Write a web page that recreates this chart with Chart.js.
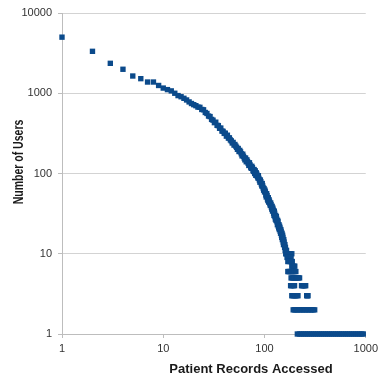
<!DOCTYPE html>
<html>
<head>
<meta charset="utf-8">
<script src="https://cdn.jsdelivr.net/npm/chart.js@4.4.0/dist/chart.umd.min.js"></script>
<style>
  html, body { margin: 0; padding: 0; background: #fff; }
  #wrap { width: 382px; height: 384px; }
</style>
</head>
<body>
<div id="wrap"><canvas id="myChart" width="382" height="384"></canvas></div>
<script>
// Axis titles and tick values
const xTitle = 'Patient Records Accessed';
const yTitle = 'Number of Users';
const xTicks = [1, 10, 100, 1000];
const yTicks = [1, 10, 100, 1000, 10000];

// Number of users for 1, 2, 3 ... 165 records accessed
const usersMain = [
    5000, 3330, 2360, 1990, 1640, 1520, 1380, 1380, 1250, 1160,
    1110, 1070, 1000, 935, 905, 865, 825, 780, 745, 720,
    700, 672, 668, 628, 622, 576, 560, 520, 512, 472,
    462, 430, 436, 398, 395, 366, 368, 338, 335, 316,
    318, 292, 300, 276, 278, 262, 255, 240, 244, 226,
    230, 220, 212, 200, 205, 188, 194, 186, 176, 166,
    174, 164, 156, 148, 156, 140, 148, 141, 134, 126,
    136, 128, 120, 116, 123, 118, 109, 106, 112, 100,
    108, 95, 102, 98, 92, 88, 94, 87, 83, 78,
    83, 79, 74, 70, 75, 70, 66, 62, 65, 59,
    62, 59, 54, 51, 56, 53, 48, 46, 50, 44,
    47, 45, 42, 40, 43, 41, 38, 36, 39, 34,
    37, 35, 32, 30, 34, 32, 29, 27, 30, 26,
    29, 27, 25, 23, 26, 25, 22, 21, 23, 20,
    22, 21, 19, 18, 20, 19, 17, 16, 18, 15,
    17, 16, 14, 13, 15, 14, 13, 12, 13, 11,
    12, 10, 11, 10, 11
];

// Tail: records accessed for each small user count
const records10Users = [168, 174, 180, 186];
const records9Users = [167, 172, 178, 183];
const records8Users = [170, 176, 182, 188];
const records7Users = [186, 190, 195, 199];
const records6Users = [170, 174, 178, 182, 187, 192, 198, 204];
const records5Users = [183, 188, 193, 198, 204, 210, 216, 222];
const records4Users = [181, 186, 192, 198, 232, 237, 243, 249, 255];
const records3Users = [186, 191, 196, 202, 208, 214, 261, 265, 269];
const records2Users = [192, 198, 204, 211, 219, 227, 235, 244, 253, 262, 272, 282, 292, 302, 313];
const records1User = [211, 221, 231, 242, 253, 265, 277, 290, 304, 318, 333, 349, 365, 382, 400,
    419, 438, 459, 480, 503, 527, 551, 577, 604, 633, 662, 693, 726, 760, 796, 833, 872, 913, 945];

// Build scatter points
const points = usersMain.map((users, i) => ({ x: i + 1, y: users }));
[
    [10, records10Users], [9, records9Users], [8, records8Users], [7, records7Users],
    [6, records6Users], [5, records5Users], [4, records4Users], [3, records3Users],
    [2, records2Users], [1, records1User]
].forEach(([users, list]) => {
    list.forEach(rec => points.push({ x: rec, y: users }));
});

const fontFamily = '"Liberation Sans", Arial, sans-serif';

// Draws the two axis titles where the original has them
const axisTitles = {
    id: 'axisTitles',
    afterDraw(chart) {
        const ctx = chart.ctx;
        ctx.save();
        ctx.fillStyle = '#1a1a1a';
        ctx.textAlign = 'center';
        ctx.textBaseline = 'middle';
        ctx.font = 'bold 13px ' + fontFamily;
        ctx.fillText(xTitle, 251, 369);
        ctx.translate(19, 162);
        ctx.rotate(-Math.PI / 2);
        ctx.scale(0.75, 1);
        ctx.font = 'bold 14px ' + fontFamily;
        ctx.fillText(yTitle, 0, 0);
        ctx.restore();
    }
};

const ctx = document.getElementById('myChart').getContext('2d');
const myChart = new Chart(ctx, {
    type: 'scatter',
    data: {
        datasets: [{
            data: points,
            pointStyle: 'rect',
            pointRadius: 3.8,
            pointHoverRadius: 3.8,
            pointBorderWidth: 0,
            backgroundColor: '#0b4a8b',
            borderColor: '#0b4a8b',
            clip: false
        }]
    },
    options: {
        responsive: false,
        animation: false,
        layout: { padding: { top: 13, right: 14, left: 0, bottom: 0 } },
        plugins: {
            legend: { display: false },
            tooltip: { enabled: false }
        },
        scales: {
            x: {
                type: 'logarithmic',
                min: 1,
                max: 1000,
                afterBuildTicks: scale => { scale.ticks = xTicks.map(v => ({ value: v })); },
                afterFit: scale => { scale.height = 50; },
                grid: { color: 'transparent', tickColor: '#bdbdbd', tickLength: 4 },
                border: { color: '#bdbdbd', width: 1 },
                ticks: {
                    color: '#333',
                    font: { family: fontFamily, size: 11 },
                    padding: 4,
                    maxRotation: 0,
                    autoSkip: false,
                    callback: value => String(value)
                }
            },
            y: {
                type: 'logarithmic',
                min: 1,
                max: 10000,
                afterBuildTicks: scale => { scale.ticks = yTicks.map(v => ({ value: v })); },
                afterFit: scale => { scale.width = 62; },
                grid: { color: '#d3d3d3', tickColor: '#bdbdbd', tickLength: 4, lineWidth: 1 },
                border: { color: '#bdbdbd', width: 1 },
                ticks: {
                    color: '#333',
                    font: { family: fontFamily, size: 11 },
                    padding: 6,
                    autoSkip: false,
                    callback: value => String(value)
                }
            }
        }
    },
    plugins: [axisTitles]
});
</script>
</body>
</html>
